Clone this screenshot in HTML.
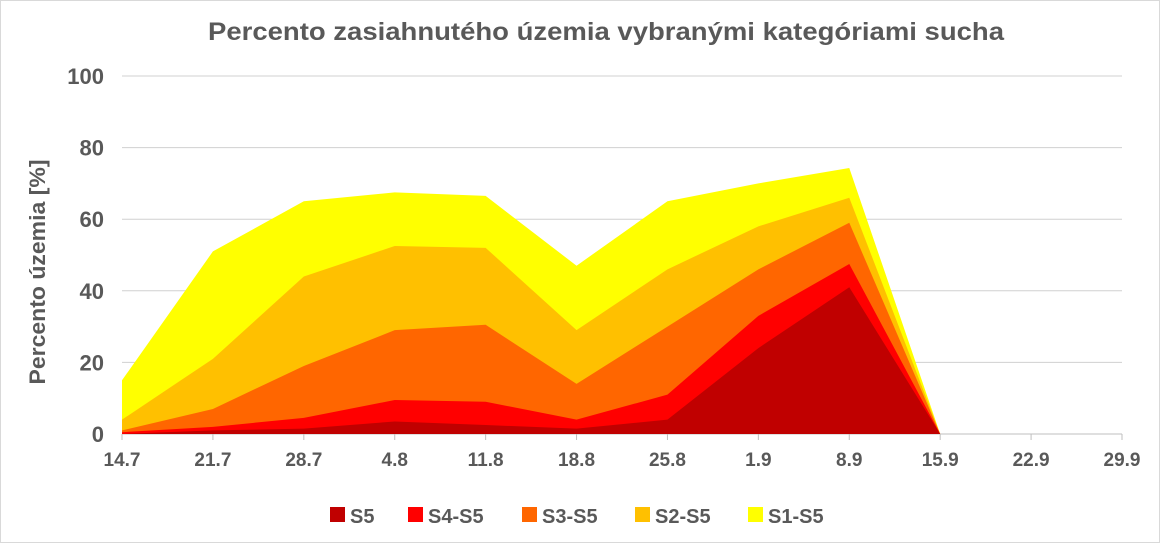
<!DOCTYPE html>
<html><head><meta charset="utf-8"><style>
body{margin:0;background:#fff;font-family:"Liberation Sans",sans-serif}
svg text{font-family:"Liberation Sans",sans-serif;fill:#595959}
</style></head><body>
<svg width="1160" height="543" id="c">
<rect x="0.5" y="0.5" width="1159" height="542" fill="#fff" stroke="#d9d9d9"/>
<text x="606" y="40" text-anchor="middle" font-size="25" font-weight="bold" textLength="796" lengthAdjust="spacingAndGlyphs">Percento zasiahnutého územia vybranými kategóriami sucha</text>
<text transform="translate(45,272) rotate(-90)" text-anchor="middle" font-size="22" font-weight="bold" textLength="225" lengthAdjust="spacingAndGlyphs">Percento územia  [%]</text>
<g id="grid"></g><g id="areas"></g><g id="axes"></g><g id="legend"></g>
</svg>
<script>
const categories=["14.7","21.7","28.7","4.8","11.8","18.8","25.8","1.9","8.9","15.9","22.9","29.9"];
const s1=[15,51,65,67.5,66.5,47,65,70,74.3,0];
const s2=[4,21,44,52.5,52,29,46,58,66,0];
const s3=[1,7,19,29,30.5,14,30,46,59,0];
const s4=[0.5,2,4.5,9.5,9,4,11,33,47.5,0];
const s5=[0,1,1.5,3.5,2.5,1.5,4,24,41,0];
const yTicks=[0,20,40,60,80,100];
const seriesNames=["S5","S4-S5","S3-S5","S2-S5","S1-S5"];
const colors=["#C00000","#FF0000","#FF6600","#FFC000","#FFFF00"];
const NS="http://www.w3.org/2000/svg";
const X0=122,X1=1122,Y0=434,Y1=76;
const x=i=>X0+i*(X1-X0)/(categories.length-1);
const y=v=>Y0-v*(Y0-Y1)/100;
function mk(t,a,p){const e=document.createElementNS(NS,t);for(const k in a)e.setAttribute(k,a[k]);p.appendChild(e);return e;}
const grid=document.getElementById('grid'),axes=document.getElementById('axes'),areas=document.getElementById('areas'),leg=document.getElementById('legend');
yTicks.forEach(t=>{
 const l=mk('line',{x1:X0,x2:X1,y1:y(t),y2:y(t),stroke:t===0?'#bfbfbf':'#d0d0d0','stroke-width':1},grid);
 
 
 const tx=mk('text',{x:X0-18,y:y(t)+8,'text-anchor':'end','font-size':22,'font-weight':'bold'},axes);tx.textContent=t;
 
 
});
categories.forEach((c,i)=>{
 const tk=mk('line',{x1:x(i),x2:x(i),y1:Y0,y2:Y0+6,stroke:'#bfbfbf'},axes);
 
 
 const tx=mk('text',{x:x(i),y:Y0+32,'text-anchor':'middle','font-size':19,'font-weight':'bold'},axes);tx.textContent=c;
 
 
});
const series=[s5,s4,s3,s2,s1];
for(let k=4;k>=0;k--){
 const d=series[k];let p='M'+x(0)+','+y(0);
 d.forEach((v,i)=>p+=' L'+x(i)+','+y(v));
 p+=' L'+x(d.length-1)+','+y(0)+' Z';
 const a=mk('path',{d:p,fill:colors[k]},areas);
 
 
}
const lx=[330,408,522,635,748];
seriesNames.forEach((n,k)=>{
 const g=mk('g',{},leg);
 
 
 mk('rect',{x:lx[k],y:507,width:15,height:15,fill:colors[k]},g);
 const t=mk('text',{x:lx[k]+20,y:523,'font-size':20,'font-weight':'bold'},g);t.textContent=n;
});
</script>
</body></html>
